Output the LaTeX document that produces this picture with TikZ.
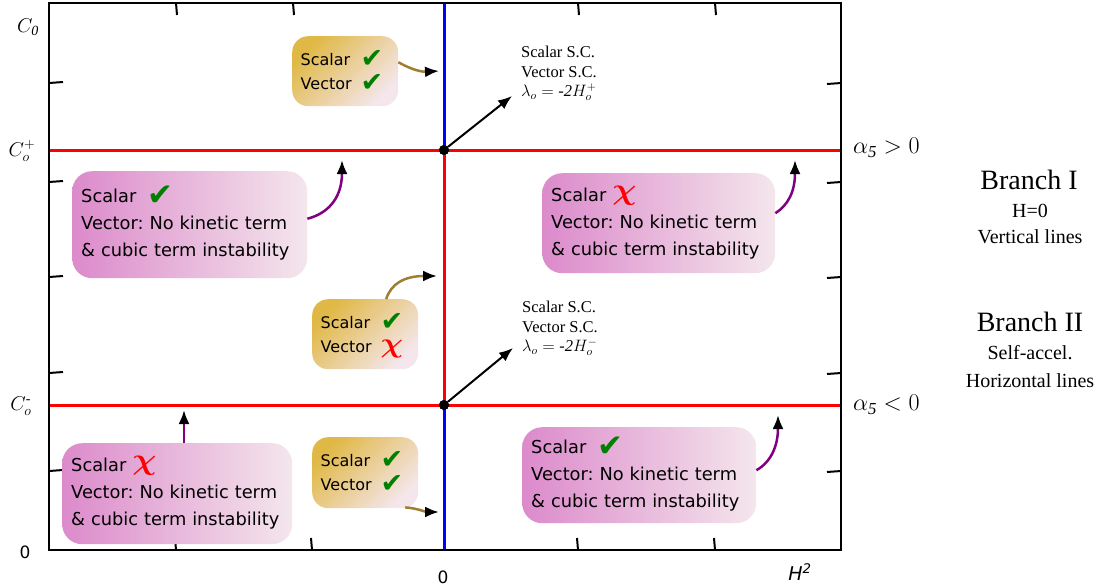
\RequirePackage{fix-cm}
\documentclass[tikz,border=0pt]{standalone}
\usepackage{amsmath}
\usepackage{graphicx}
\usepackage{fontspec}
\setmainfont{Liberation Serif}
\newfontfamily\boxfont{DejaVu Sans}
\usetikzlibrary{arrows.meta,calc}
\definecolor{pinkL}{HTML}{DC8ACB}
\definecolor{pinkR}{HTML}{F4E6EC}
\definecolor{goldA}{HTML}{E0B845}
\definecolor{goldB}{HTML}{F4E6EC}
\definecolor{chkgreen}{HTML}{008000}
\definecolor{arrgold}{HTML}{A07D32}
\definecolor{arrpurple}{HTML}{800080}
\definecolor{lineblue}{HTML}{0000FF}
\definecolor{linered}{HTML}{FF0000}
\frenchspacing
\newcommand\okmark{\smash{\raisebox{-3pt}{\fontsize{31}{31}\selectfont\textcolor{chkgreen}{✔}}}}
\newcommand\okgold{\smash{\raisebox{-2pt}{\fontsize{27}{27}\selectfont\textcolor{chkgreen}{✔}}}}
\newcommand\nomark{\smash{\raisebox{2pt}{\fontsize{30}{30}\selectfont\textcolor{red}{\scalebox{1.12}[1]{$\boldsymbol{\chi}$}}}}}
\newcommand\nogold{\smash{\raisebox{0pt}{\fontsize{28}{28}\selectfont\textcolor{red}{\scalebox{1.12}[1]{$\boldsymbol{\chi}$}}}}}
\newcommand\glab[1]{\makebox[60pt][l]{#1}}
\tikzset{
  frame/.style={draw=black, line width=2pt},
  tick/.style={draw=black, line width=2pt},
  redline/.style={draw=linered, line width=3pt},
  blueline/.style={draw=lineblue, line width=3pt},
  dot/.style={circle, fill=black, inner sep=0pt, minimum size=10pt},
  tipblack/.style={-{Latex[color=black,length=14pt,width=11pt]}},
  blackarrow/.style={tipblack, draw=black, line width=2pt},
  goldarrow/.style={tipblack, draw=arrgold, line width=2.5pt},
  purplearrow/.style={tipblack, draw=arrpurple, line width=2.5pt},
  pinkbox/.style={anchor=north west, rounded corners=20pt, left color=pinkL, right color=pinkR,
    align=left, inner xsep=9pt, inner ysep=0pt,
    font=\boxfont\fontsize{17.8}{27}\selectfont},
  goldbox/.style={anchor=north west, rounded corners=16pt, top color=goldA, bottom color=goldB,
    shading angle=45, align=left, inner xsep=8.5pt, inner ysep=0pt,
    font=\boxfont\fontsize{16}{24}\selectfont},
  sclabel/.style={anchor=north west, align=left, inner sep=0pt,
    font=\fontsize{16.5}{19.5}\selectfont},
  axislabel/.style={inner sep=0pt, font=\fontsize{20}{20}\selectfont},
  sanslabel/.style={inner sep=0pt, font=\boxfont\fontsize{17}{17}\selectfont},
  alphalabel/.style={anchor=west, inner sep=0pt, font=\fontsize{24}{24}\selectfont},
  bigtitle/.style={inner sep=0pt, font=\fontsize{28}{28}\selectfont},
  smalltitle/.style={inner sep=0pt, font=\fontsize{20}{20}\selectfont},
}
\begin{document}
\begin{tikzpicture}[x=1pt,y=-1pt]
\useasboundingbox (0,0) rectangle (1107,587);

% horizontal red lines
\coordinate (L1) at (49,150); \coordinate (R1) at (841,150);
\coordinate (L2) at (49,405); \coordinate (R2) at (841,405);
\draw[redline] (L1) -- (R1);
\draw[redline] (L2) -- (R2);

% vertical line
\coordinate (Ptop) at (444,3);
\coordinate (Pbot) at (444,550);
\node[dot] (P1) at (444,150) {};
\node[dot] (P2) at (444,405) {};
\draw[blueline] (Ptop) -- (P1.center);
\draw[redline] (P1.center) -- (P2.center);
\draw[blueline] (P2.center) -- (Pbot);
\node[dot] at (P1) {};
\node[dot] at (P2) {};

% frame and ticks
\draw[frame] (49,3) rectangle (841,550);
\foreach \x in {176,293,578,715} \draw[tick] (\x,3) -- (\x+1,15);
\foreach \x in {176,312,578,715} \draw[tick] (\x,550) -- (\x-1,538);
\foreach \y in {83,182,277,373,471} {
  \draw[tick] (49,\y) -- (63,\y-1);
  \draw[tick] (841,\y) -- (827,\y+1);
}

% axis labels
\node[axislabel] (c0) at (28,27) {$C_{\mathit{0}}$};
\node[axislabel] (cp) at (22,151) {$C_o^{+}$};
\node[axislabel] (cm) at (21,406) {$C_o^{\text{-}}$};
\node[sanslabel] (zl) at (25,552) {0};
\node[sanslabel] (zb) at (443,577) {0};
\node[sanslabel, font=\boxfont\itshape\fontsize{19}{19}\selectfont] (h2) at (800,572) {H\textsuperscript{2}};

% right labels
\node[alphalabel] (ap) at (853,148) {$\alpha_{\mathit{5}} > 0$};
\node[alphalabel] (am) at (853,405) {$\alpha_{\mathit{5}} < 0$};
\node[bigtitle] (b1) at (1029,180) {Branch I};
\node[smalltitle] (b1a) at (1030,211) {H=0};
\node[smalltitle] (b1b) at (1030,237) {Vertical lines};
\node[bigtitle] (b2) at (1030,322) {Branch II};
\node[smalltitle] (b2a) at (1030,353) {Self-accel.};
\node[smalltitle] (b2b) at (1030,381) {Horizontal lines};

% S.C. labels
\node[sclabel] (sc1) at (521,46) {Scalar S.C.\\Vector S.C.\\$\lambda_o = \text{\itshape -2}H_o^{+}$};
\coordinate (A1) at (512,96);
\draw[blackarrow] (P1) -- (A1);
\node[sclabel] (sc2) at (522,301) {Scalar S.C.\\Vector S.C.\\$\lambda_o = \text{\itshape -2}H_o^{-}$};
\coordinate (A2) at (513,348);
\draw[blackarrow] (P2) -- (A2);

% gold boxes
\node[goldbox, minimum width=106pt, minimum height=70pt, text width=89pt] (g1) at (292,36)
  {\glab{Scalar}\okgold\\\glab{Vector}\okgold};
\node[goldbox, minimum width=106pt, minimum height=70pt, text width=89pt] (g2) at (312,299)
  {\glab{Scalar}\okgold\\\glab{Vector}\nogold};
\node[goldbox, minimum width=106pt, minimum height=71pt, text width=89pt] (g3) at (312,437)
  {\glab{Scalar}\okgold\\\glab{Vector}\okgold};

% pink boxes
\node[pinkbox, minimum width=235pt, minimum height=107pt, text width=217pt] (p1) at (72,171)
  {Scalar\hspace{5pt} \okmark\\Vector: No kinetic term\\\& cubic term instability};
\node[pinkbox, minimum width=233pt, minimum height=100pt, text width=215pt] (p2) at (542,173)
  {Scalar \nomark\\Vector: No kinetic term\\\& cubic term instability};
\node[pinkbox, minimum width=230pt, minimum height=101pt, text width=212pt] (p3) at (62,443)
  {Scalar \nomark\\Vector: No kinetic term\\\& cubic term instability};
\node[pinkbox, minimum width=234pt, minimum height=96pt, text width=216pt] (p4) at (522,427)
  {Scalar\hspace{5pt} \okmark\\Vector: No kinetic term\\\& cubic term instability};

% box connectors
\coordinate (t1) at (439,71);
\draw[goldarrow] ($(g1.east)+(0,-9)$) .. controls (412,70) and (422,72) .. (t1);
\coordinate (t2) at (437,276);
\draw[goldarrow] ($(g2.north)+(21,0)$) .. controls (391,284) and (404,276) .. (t2);
\coordinate (t3) at (439,512);
\draw[goldarrow] ($(g3.south)+(40,-1)$) .. controls (416,508) and (426,512) .. (t3);
\coordinate (t4) at (342,160);
\draw[purplearrow] ($(p1.east)+(0,-6)$) .. controls (326,214) and (342,200) .. (t4);
\coordinate (t5) at (795,160);
\draw[purplearrow] ($(p2.east)+(0,-10)$) .. controls (788,205) and (795,192) .. (t5);
\coordinate (t6) at (184,410);
\draw[purplearrow] (p3.north -| t6) -- (t6);
\coordinate (t7) at (778,415);
\draw[purplearrow] ($(p4.east)+(0,-5)$) .. controls (771,462) and (778,446) .. (t7);
\end{tikzpicture}
\end{document}
